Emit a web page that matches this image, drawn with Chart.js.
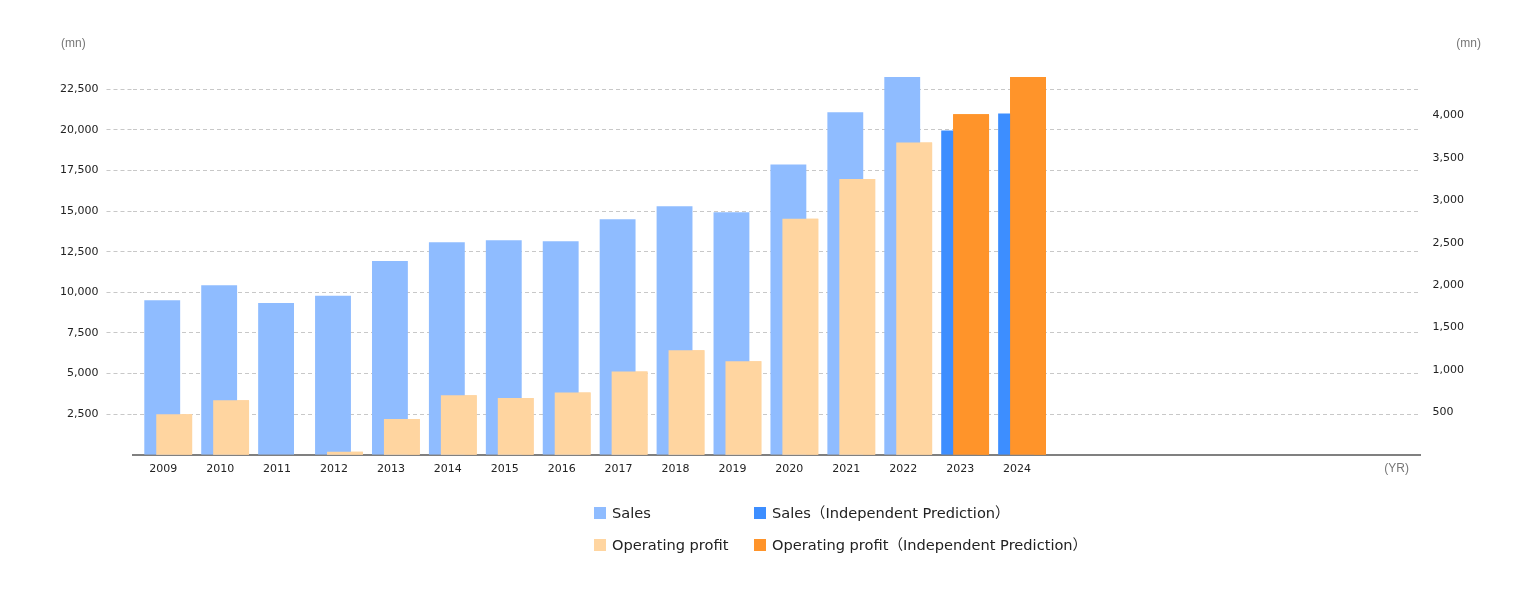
<!DOCTYPE html>
<html>
<head>
<meta charset="utf-8">
<script src="https://cdn.jsdelivr.net/npm/chart.js@4.4.1/dist/chart.umd.min.js"></script>
<style>
  body { margin: 0; background: #fff; }
  #wrap { position: relative; width: 1540px; height: 600px; }
  #legend {
    position: absolute; left: 594px; top: 503px;
    display: grid; grid-template-columns: 160px auto; row-gap: 12px;
    font: 14.6px "DejaVu Sans", "Noto Sans CJK JP", sans-serif; color: #222;
  }
  .item { display: flex; align-items: center; height: 20px; white-space: nowrap; line-height: 1; }
  .box { width: 12px; height: 12px; margin-right: 6px; }
</style>
</head>
<body>
<div id="wrap">
  <canvas id="chart" width="1540" height="600"></canvas>
  <div id="legend"></div>
</div>
<script>
  // yearly values (mn)
  const years = [2009, 2010, 2011, 2012, 2013, 2014, 2015, 2016, 2017, 2018, 2019, 2020, 2021, 2022, 2023, 2024];
  const sales = [9510, 10430, 9340, 9790, 11930, 13080, 13200, 13140, 14490, 15290, 14920, 17870, 21080, 23250, null, null];
  const salesForecast = [null, null, null, null, null, null, null, null, null, null, null, null, null, null, 19960, 21000];
  const profit = [478, 642, null, 35, 423, 701, 669, 736, 983, 1233, 1104, 2784, 3253, 3684, null, null];
  const profitForecast = [null, null, null, null, null, null, null, null, null, null, null, null, null, null, 4017, 4455];

  // tick values of the two value axes
  const salesTicks = [2500, 5000, 7500, 10000, 12500, 15000, 17500, 20000, 22500];
  const profitTicks = [500, 1000, 1500, 2000, 2500, 3000, 3500, 4000];

  const seriesNames = ["Sales", "Sales（Independent Prediction）", "Operating profit", "Operating profit（Independent Prediction）"];
  const colors = ["#8fbcff", "#3d8eff", "#ffd5a0", "#ff942a"];

  // legend in two rows, like the original
  const legendEl = document.getElementById("legend");
  [0, 1, 2, 3].forEach((i) => {
    const item = document.createElement("div");
    item.className = "item";
    item.innerHTML = `<span class="box" style="background:${colors[i]}"></span><span>${seriesNames[i]}</span>`;
    legendEl.appendChild(item);
  });

  const extras = {
    id: "extras",
    afterDatasetsDraw(chart) {
      // profit bars sit over the sales bars
      [2, 3].forEach((i) => chart.getDatasetMeta(i).controller.draw());
    },
    afterDraw(chart) {
      const ctx = chart.ctx;
      ctx.save();
      ctx.font = '12px "Liberation Sans", sans-serif';
      ctx.fillStyle = "#777";
      ctx.textBaseline = "middle";
      ctx.textAlign = "left";
      ctx.fillText("(mn)", 61, 44);
      ctx.textAlign = "right";
      ctx.fillText("(mn)", 1481, 44);
      ctx.fillText("(YR)", 1409, 469);
      ctx.restore();
    }
  };

  const tickFont = { family: "DejaVu Sans", size: 11 };
  const fmt = (v) => Number(v).toLocaleString("en-US");
  const barOpts = { categoryPercentage: 0.42, barPercentage: 3, borderWidth: 0 };

  new Chart(document.getElementById("chart"), {
    type: "bar",
    data: {
      labels: years,
      datasets: [
        { label: seriesNames[0], data: sales, backgroundColor: colors[0], stack: "s", yAxisID: "y", ...barOpts },
        { label: seriesNames[1], data: salesForecast, backgroundColor: colors[1], stack: "s", yAxisID: "y", ...barOpts },
        { label: seriesNames[2], data: profit, backgroundColor: colors[2], stack: "p", yAxisID: "y1", ...barOpts },
        { label: seriesNames[3], data: profitForecast, backgroundColor: colors[3], stack: "p", yAxisID: "y1", ...barOpts }
      ]
    },
    options: {
      responsive: false,
      animation: false,
      layout: { padding: { top: 77, left: 52, right: 64, bottom: 116 } },
      plugins: { legend: { display: false }, tooltip: { enabled: false } },
      scales: {
        x: {
          type: "linear",
          offset: false,
          min: years[0] - 0.61,
          max: years[0] + 22.0,
          afterBuildTicks: (axis) => { axis.ticks = years.map((v) => ({ value: v })); },
          grid: { display: false, drawTicks: false },
          border: { color: "#808080", width: 2 },
          ticks: { padding: 8, labelOffset: -5, color: "#222", font: tickFont, callback: (v) => String(v) }
        },
        y: {
          position: "left",
          min: 0,
          max: Math.max(...sales, ...salesForecast),
          afterBuildTicks: (axis) => { axis.ticks = salesTicks.map((v) => ({ value: v })); },
          grid: { color: "#c8c8c8", tickColor: "#c8c8c8", drawTicks: true, tickLength: 27, tickBorderDash: [4, 3] },
          border: { display: false, dash: [4, 3] },
          ticks: { padding: 8, color: "#222", font: tickFont, callback: fmt }
        },
        y1: {
          position: "right",
          min: 0,
          max: Math.max(...profit, ...profitForecast),
          afterBuildTicks: (axis) => { axis.ticks = profitTicks.map((v) => ({ value: v })); },
          grid: { display: false, drawTicks: false },
          border: { display: false },
          ticks: { padding: 12, color: "#222", font: tickFont, callback: fmt }
        }
      }
    },
    plugins: [extras]
  });
</script>
</body>
</html>
